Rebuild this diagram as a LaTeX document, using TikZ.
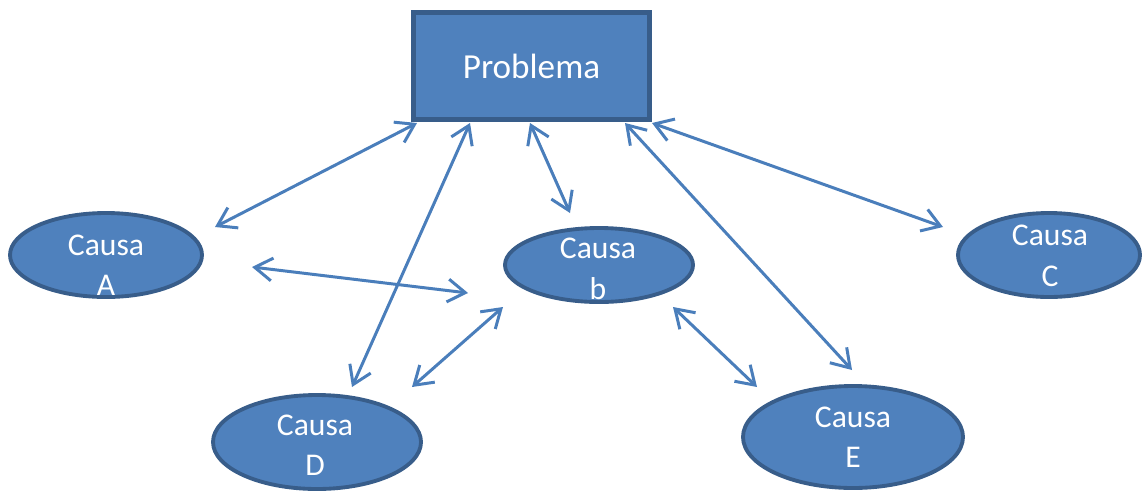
\documentclass[tikz,border=0pt]{standalone}
\usepackage{fontspec}
\setmainfont{Carlito}
\usetikzlibrary{arrows.meta,shapes.geometric}
\definecolor{fillblue}{HTML}{4F81BD}
\definecolor{edgeblue}{HTML}{385D8A}
\definecolor{arrowblue}{HTML}{4A7EBB}

\begin{document}
\begin{tikzpicture}[x=0.2mm,y=-0.2mm,
  problem/.style={draw=edgeblue,line width=2.8pt,fill=fillblue,rectangle,inner sep=0pt},
  causa/.style={draw=edgeblue,line width=2.2pt,fill=fillblue,ellipse,inner sep=0pt},
  ctext/.style={text=white,align=center,inner sep=0pt,font=\fontsize{18}{23}\selectfont},
  link/.style={arrowblue,line width=1.7pt,
    {Straight Barb[length=10pt,width=13pt]}-{Straight Barb[length=10pt,width=13pt]}}]
\useasboundingbox (0,0) rectangle (1143,491);
% problema
\node[problem,minimum width=47.2mm,minimum height=21.4mm,text=white,
  font=\fontsize{20}{24}\selectfont] (prob) at (531.5,66) {Problema};
% causas
\node[causa,minimum width=38.4mm,minimum height=16.8mm] (ca) at (106,255) {};
\node[ctext] (ta) at (106,265) {Causa\\A};
\node[causa,minimum width=37.6mm,minimum height=14.8mm] (cb) at (599,265) {};
\node[ctext] (tb) at (598,269) {Causa\\b};
\node[causa,minimum width=36.4mm,minimum height=16.8mm] (cc) at (1049,255) {};
\node[ctext] (tc) at (1050,256) {Causa\\C};
\node[causa,minimum width=41.6mm,minimum height=18.8mm] (cd) at (317,442) {};
\node[ctext] (td) at (315,445) {Causa\\D};
\node[causa,minimum width=44mm,minimum height=20.4mm] (ce) at (853,437) {};
\node[ctext] (te) at (853,437) {Causa\\E};
% arrow ends
\coordinate (p1) at (417,123);
\coordinate (p2) at (470,123);
\coordinate (p3) at (530,123);
\coordinate (p4) at (625,123);
\coordinate (p5) at (652,123);
\coordinate (a1) at (215,227);
\coordinate (a2) at (252,267);
\coordinate (b1) at (570,213);
\coordinate (b2) at (468,293);
\coordinate (b3) at (503,307);
\coordinate (b4) at (673,307);
\coordinate (c1) at (943,227);
\coordinate (d1) at (352,387);
\coordinate (d2) at (412,387);
\coordinate (e1) at (852,370);
\coordinate (e2) at (757,387);
% connectors
\draw[link] (p1) -- (a1);
\draw[link] (p2) -- (d1);
\draw[link] (p3) -- (b1);
\draw[link] (p4) -- (e1);
\draw[link] (p5) -- (c1);
\draw[link] (a2) -- (b2);
\draw[link] (b3) -- (d2);
\draw[link] (b4) -- (e2);
\end{tikzpicture}
\end{document}
